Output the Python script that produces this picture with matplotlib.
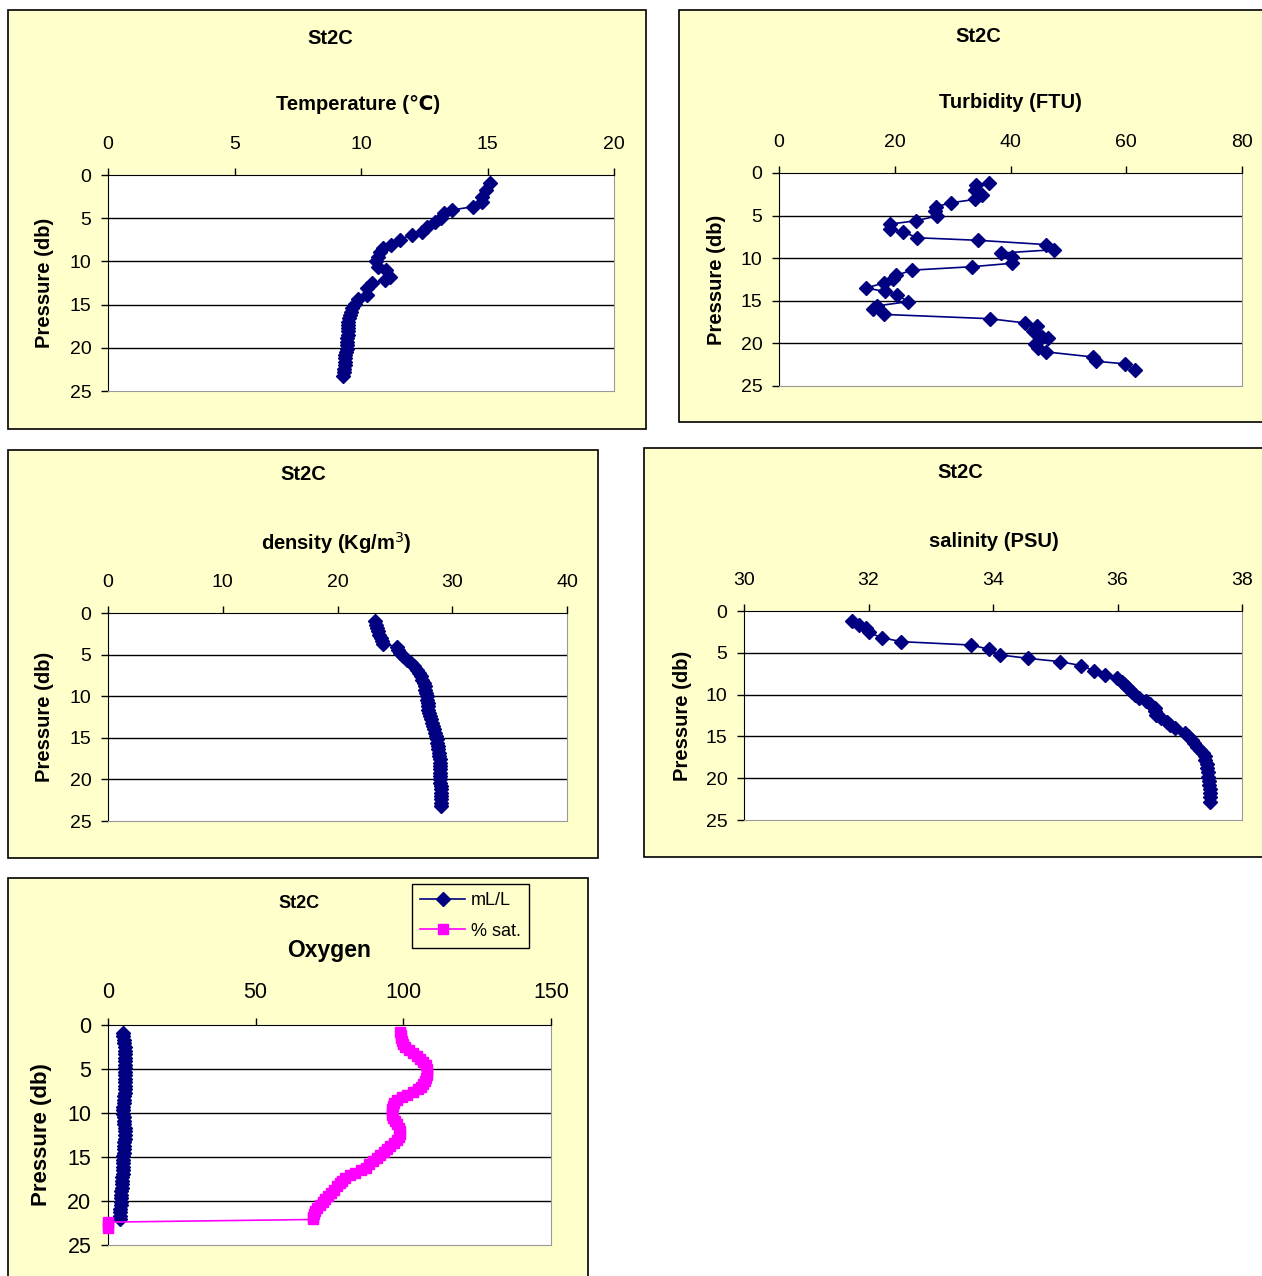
import numpy as np
import matplotlib.pyplot as plt
from matplotlib.patches import Rectangle

W, H = 1262, 1276

# ---- data ----
temp_p = [0.97, 1.74, 2.5, 3.1, 3.67, 4.05, 4.4, 5.0, 5.4, 6.0, 6.6, 6.9, 7.5, 8.1, 8.5, 8.9,
          9.5, 10.0, 10.6, 11.0, 11.8, 12.2, 12.5, 13.1, 13.9, 14.3, 14.9, 15.4, 15.8, 16.2,
          16.6, 17.0, 17.4, 17.7, 18.1, 18.5, 18.9, 19.3, 19.7, 20.1, 20.5, 20.8, 21.2, 21.6,
          22.0, 22.4, 22.8, 23.3]
temp_v = [15.1, 14.96, 14.8, 14.77, 14.44, 13.58, 13.3, 13.18, 12.92, 12.6, 12.4, 12.0, 11.54,
          11.2, 10.88, 10.75, 10.68, 10.6, 10.68, 11.0, 11.15, 10.95, 10.42, 10.22, 10.22, 9.89,
          9.76, 9.63, 9.6, 9.56, 9.53, 9.5, 9.5, 9.5, 9.5, 9.5, 9.46, 9.43, 9.43, 9.43, 9.4,
          9.37, 9.37, 9.37, 9.35, 9.33, 9.32, 9.3]

turb_p = [1.13, 1.41, 2.0, 2.58, 3.1, 3.5, 3.95, 4.5, 5.05, 5.6, 6.0, 6.6, 6.9, 7.6, 7.9, 8.4,
          9.0, 9.4, 9.9, 10.6, 11.0, 11.4, 12.0, 12.4, 12.9, 13.5, 13.9, 14.3, 15.1, 15.6, 16.0,
          16.6, 17.1, 17.6, 18.0, 18.6, 19.2, 19.4, 20.1, 20.5, 21.0, 21.6, 22.1, 22.4, 23.1]
turb_v = [36.2, 34.1, 33.8, 35.0, 33.8, 29.7, 27.2, 26.9, 27.3, 23.7, 19.2, 19.2, 21.4, 23.9,
          34.4, 46.1, 47.6, 38.3, 40.2, 40.2, 33.3, 23.0, 20.3, 19.7, 18.2, 15.0, 18.3, 20.4,
          22.3, 16.9, 16.3, 18.2, 36.4, 42.5, 44.5, 43.9, 45.5, 46.5, 44.2, 44.8, 46.2, 54.3,
          54.8, 59.8, 61.5]

dens_p = [1.0, 1.4, 1.8, 2.2, 2.6, 3.0, 3.4, 3.7, 4.05, 4.4, 4.8, 5.2, 5.6, 6.0, 6.4, 6.8,
          7.2, 7.6, 8.0, 8.4, 8.8, 9.2, 9.6, 10.0, 10.4, 10.8, 11.2, 11.6, 12.0, 12.4, 12.8,
          13.2, 13.6, 14.0, 14.4, 14.8, 15.2, 15.6, 16.0, 16.4, 16.8, 17.2, 17.6, 18.0, 18.4,
          18.8, 19.2, 19.6, 20.0, 20.4, 20.8, 21.2, 21.6, 22.0, 22.4, 22.8, 23.2]
dens_v = [23.3, 23.35, 23.45, 23.55, 23.65, 23.75, 23.9, 24.0, 25.15, 25.3, 25.45, 25.7, 26.05,
          26.4, 26.7, 26.9, 27.1, 27.25, 27.4, 27.5, 27.6, 27.65, 27.72, 27.78, 27.82, 27.85,
          27.87, 27.9, 27.95, 28.02, 28.12, 28.22, 28.33, 28.43, 28.52, 28.58, 28.63, 28.7,
          28.76, 28.8, 28.84, 28.87, 28.9, 28.92, 28.93, 28.93, 28.93, 28.93, 28.95, 28.97,
          29.0, 29.0, 29.0, 29.0, 29.0, 29.0, 29.0]

sal_p = [1.16, 1.67, 2.07, 2.55, 3.19, 3.67, 4.07, 4.58, 5.26, 5.66, 6.06, 6.54, 7.14, 7.66,
         8.05, 8.45, 8.75, 9.05, 9.35, 9.65, 10.05, 10.45, 10.8, 11.12, 11.64, 12.0, 12.44,
         12.85, 13.24, 13.6, 14.03, 14.63, 15.0, 15.43, 15.8, 16.23, 16.6, 16.95, 17.4, 17.82,
         18.3, 18.82, 19.3, 19.82, 20.3, 20.81, 21.3, 21.81, 22.3, 22.8]
sal_v = [31.73, 31.85, 31.96, 32.0, 32.21, 32.53, 33.65, 33.94, 34.12, 34.56, 35.08, 35.42,
         35.62, 35.8, 35.99, 36.07, 36.11, 36.15, 36.19, 36.23, 36.28, 36.34, 36.45, 36.52,
         36.6, 36.61, 36.62, 36.7, 36.79, 36.85, 36.92, 37.09, 37.14, 37.19, 37.23, 37.27,
         37.33, 37.38, 37.4, 37.41, 37.43, 37.44, 37.45, 37.46, 37.47, 37.47, 37.48, 37.48,
         37.49, 37.49]

oxml_p = [0.9, 1.3, 1.7, 2.1, 2.5, 2.9, 3.3, 3.7, 4.1, 4.5, 4.9, 5.3, 5.7, 6.1, 6.5, 6.9,
          7.3, 7.7, 8.1, 8.5, 8.9, 9.3, 9.7, 10.1, 10.5, 10.9, 11.3, 11.7, 12.1, 12.5, 12.9,
          13.3, 13.7, 14.1, 14.5, 14.9, 15.3, 15.7, 16.1, 16.5, 16.9, 17.3, 17.7, 18.1, 18.5,
          18.9, 19.3, 19.7, 20.1, 20.5, 20.9, 21.3, 21.7, 22.1]
oxml_v = [5.0, 5.1, 5.3, 5.4, 5.6, 5.7, 5.7, 5.8, 5.8, 5.8, 5.8, 5.8, 5.8, 5.7, 5.7, 5.7,
          5.6, 5.6, 5.5, 5.4, 5.3, 5.2, 5.2, 5.2, 5.3, 5.4, 5.5, 5.6, 5.7, 5.7, 5.6, 5.5,
          5.4, 5.3, 5.3, 5.2, 5.2, 5.2, 5.1, 5.1, 5.0, 4.9, 4.8, 4.7, 4.6, 4.5, 4.4, 4.4,
          4.3, 4.3, 4.2, 4.2, 4.1, 4.1]

oxsat_p = [0.76, 1.1, 1.45, 1.8, 2.15, 2.5, 2.85, 3.2, 3.55, 3.9, 4.25, 4.6, 4.95, 5.3, 5.65,
           6.0, 6.35, 6.7, 7.0, 7.3, 7.6, 7.9, 8.2, 8.5, 8.85, 9.2, 9.55, 9.9, 10.25, 10.6,
           10.95, 11.3, 11.65, 12.0, 12.35, 12.7, 13.05, 13.4, 13.75, 14.1, 14.45, 14.8, 15.15,
           15.5, 15.85, 16.2, 16.5, 16.8, 17.1, 17.4, 17.7, 18.0, 18.35, 18.7, 19.05, 19.4,
           19.75, 20.1, 20.45, 20.8, 21.15, 21.5, 21.8, 22.1, 22.4, 22.7, 23.1]
oxsat_v = [98.9, 99.1, 99.3, 99.6, 100.0, 100.6, 101.8, 103.4, 104.6, 105.8, 106.8, 107.6,
           108.0, 108.0, 107.9, 107.6, 107.2, 106.7, 106.0, 104.8, 103.4, 101.3, 99.4, 97.9,
           97.0, 96.5, 96.2, 96.0, 96.1, 96.5, 97.2, 97.9, 98.5, 98.8, 98.9, 98.5, 97.7, 96.7,
           95.6, 94.5, 93.3, 92.2, 91.0, 89.8, 88.5, 87.2, 85.6, 83.8, 81.8, 80.3, 79.3, 78.4,
           77.4, 76.4, 75.4, 74.4, 73.5, 72.7, 71.7, 70.9, 70.2, 69.8, 69.5, 69.4, 0.0, 0.0,
           0.0]

plt.rcParams['font.family'] = ['Liberation Sans', 'DejaVu Sans']

NAVY = '#000080'
PANEL = '#FFFFCC'

fig = plt.figure(figsize=(W / 100, H / 100), dpi=100)
fig.patch.set_facecolor('white')


def box(x0, y0, x1, y1):
    return [x0 / W, 1 - y1 / H, (x1 - x0) / W, (y1 - y0) / H]


def frame(x0, y0, x1, y1):
    fig.patches.append(Rectangle((x0 / W, 1 - y1 / H), (x1 - x0) / W, (y1 - y0) / H,
                                 transform=fig.transFigure, facecolor=PANEL,
                                 edgecolor='black', lw=1.2, zorder=-5))


def ftext(x, y, s, size=14.5, **kw):
    return fig.text(x / W, 1 - y / H, s, ha='center', va='center', fontsize=size,
                    fontweight='bold', **kw)


def panel(rect, xlim, xticks, ylabel_x, size=14):
    ax = fig.add_axes(box(*rect))
    ax.set_facecolor('white')
    ax.set_xlim(*xlim)
    ax.set_ylim(25, 0)
    ax.set_xticks(xticks)
    ax.set_yticks([0, 5, 10, 15, 20, 25])
    ax.xaxis.tick_top()
    ax.tick_params(axis='x', direction='out', length=5, pad=11, labelsize=size, width=1)
    ax.tick_params(axis='y', direction='out', length=5, pad=7, labelsize=size, width=1)
    for v in [5, 10, 15, 20]:
        ax.axhline(v, color='black', lw=1, zorder=1)
    ax.spines['top'].set_color('black')
    ax.spines['left'].set_color('black')
    ax.spines['right'].set_color('#999999')
    ax.spines['bottom'].set_color('#999999')
    cy = (rect[1] + rect[3]) / 2
    ftext(ylabel_x, cy, 'Pressure (db)', size=size + 0.5, rotation=90)
    return ax


# frames
frame(8, 10, 646, 429)
frame(679, 10, 1268, 422)
frame(8, 450, 598, 858)
frame(644, 448, 1268, 857)
frame(8, 878, 588, 1282)

mk = dict(color=NAVY, marker='D', markersize=7, lw=1.2, zorder=3)

# temperature
ax1 = panel((108, 175, 614, 391), (0, 20), [0, 5, 10, 15, 20], 45)
ax1.plot(temp_v, temp_p, **mk)
ftext(330, 38, 'St2C')
ftext(358, 104, 'Temperature (\u2103)')

# turbidity
ax2 = panel((779, 173, 1242, 386), (0, 80), [0, 20, 40, 60, 80], 716)
ax2.plot(turb_v, turb_p, **mk)
ftext(978, 36, 'St2C')
ftext(1010, 102, 'Turbidity (FTU)')

# density
ax3 = panel((108, 613, 567, 821), (0, 40), [0, 10, 20, 30, 40], 45)
ax3.plot(dens_v, dens_p, **mk)
ftext(303, 474, 'St2C')
ftext(336, 543, 'density (Kg/m$^3$)')

# salinity
ax4 = panel((744, 611, 1242, 820), (30, 38), [30, 32, 34, 36, 38], 682)
ax4.plot(sal_v, sal_p, **mk)
ftext(960, 473, 'St2C')
ftext(994, 541, 'salinity (PSU)')

# oxygen
ax5 = panel((108, 1025, 551, 1245), (0, 150), [0, 50, 100, 150], 42, size=15.5)
l1, = ax5.plot(oxml_v, oxml_p, **mk, label='mL/L')
l2, = ax5.plot(oxsat_v, oxsat_p, color='#FF00FF', marker='s', markersize=6.5, lw=1.2,
               zorder=3, label='% sat.', clip_on=False)
ftext(299, 903, 'St2C', size=13)
ftext(329, 951, 'Oxygen', size=16.5)
leg = fig.legend(handles=[l1, l2], loc='upper left', bbox_to_anchor=(412 / W, 1 - 884 / H),
                 fontsize=13, frameon=True, facecolor=PANEL, edgecolor='black',
                 fancybox=False, framealpha=1, handlelength=2.5, borderpad=0.45,
                 labelspacing=0.75, borderaxespad=0, handletextpad=0.3)
leg.get_frame().set_linewidth(1)

fig.savefig('out.png', dpi=100)
